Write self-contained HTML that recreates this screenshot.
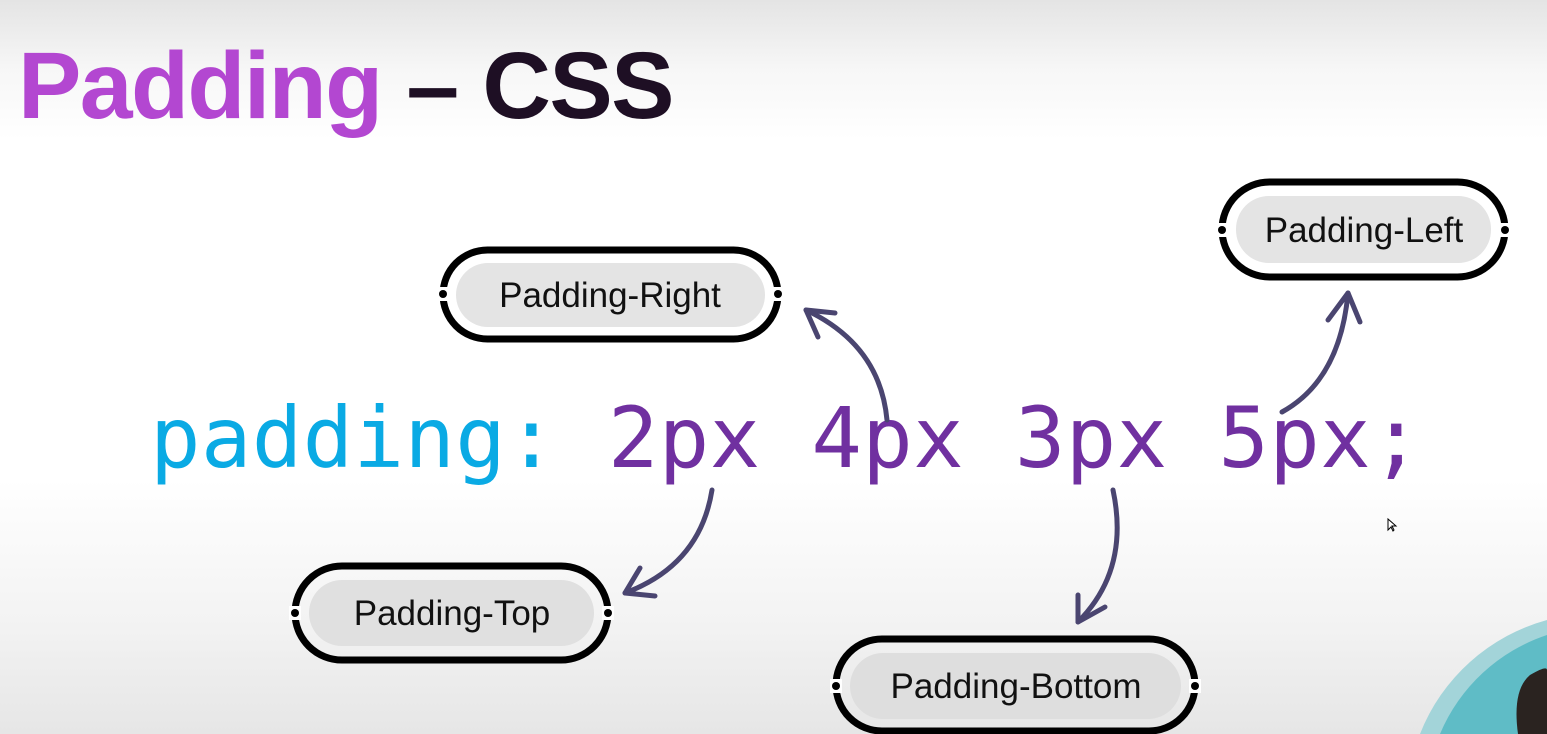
<!DOCTYPE html>
<html><head><meta charset="utf-8"><style>
html,body{margin:0;padding:0;overflow:hidden;width:1547px;height:734px}
body{position:relative;
background:linear-gradient(#e4e4e4 0px,#f7f7f7 70px,#fff 140px,#fff 480px,#f3f3f3 620px,#e6e6e6 734px);
font-family:"Liberation Sans",sans-serif}
.title{position:absolute;left:18px;top:32px;font-size:95px;font-weight:bold;letter-spacing:-1.6px;white-space:nowrap}
.code{position:absolute;left:150px;top:389px;font-family:"DejaVu Sans Mono","Liberation Mono",monospace;font-size:84px;letter-spacing:0.3px;white-space:pre;color:#7030a0}
</style></head><body>
<div class="title"><span style="color:#b347d1">Padding</span> <span style="color:#1e0f24">– CSS</span></div>
<div class="code"><span style="color:#0aaae4">padding:</span> 2px 4px 3px 5px;</div>
<svg width="1547" height="734" style="position:absolute;left:0;top:0;overflow:hidden">
<g font-family="Liberation Sans, sans-serif" font-size="35" fill="#111" text-anchor="middle">
<rect x="443" y="250" width="335" height="89" rx="44.5" fill="none" stroke="#000" stroke-width="7"/>
<rect x="437" y="287" width="12" height="14" fill="#fff"/><rect x="772" y="287" width="12" height="14" fill="#fff"/>
<circle cx="443" cy="294" r="4" fill="#000"/><circle cx="778" cy="294" r="4" fill="#000"/>
<rect x="456" y="263" width="309" height="64" rx="32" fill="#e4e4e4"/>
<text x="610" y="307">Padding-Right</text>
<rect x="1222" y="182" width="283" height="95" rx="47.5" fill="none" stroke="#000" stroke-width="7"/>
<rect x="1216" y="223" width="12" height="14" fill="#fff"/><rect x="1499" y="223" width="12" height="14" fill="#fff"/>
<circle cx="1222" cy="230" r="4" fill="#000"/><circle cx="1505" cy="230" r="4" fill="#000"/>
<rect x="1236" y="196" width="255" height="67" rx="33" fill="#e4e4e4"/>
<text x="1364" y="242">Padding-Left</text>
<rect x="295" y="566" width="313" height="94" rx="47" fill="none" stroke="#000" stroke-width="7"/>
<rect x="289" y="606" width="12" height="14" fill="#fff"/><rect x="602" y="606" width="12" height="14" fill="#fff"/>
<circle cx="295" cy="613" r="4" fill="#000"/><circle cx="608" cy="613" r="4" fill="#000"/>
<rect x="309" y="580" width="285" height="66" rx="33" fill="#e0e0e0"/>
<text x="452" y="625">Padding-Top</text>
<rect x="836" y="639" width="359" height="92" rx="46" fill="none" stroke="#000" stroke-width="7"/>
<rect x="830" y="679" width="12" height="14" fill="#fff"/><rect x="1189" y="679" width="12" height="14" fill="#fff"/>
<circle cx="836" cy="686" r="4" fill="#000"/><circle cx="1195" cy="686" r="4" fill="#000"/>
<rect x="850" y="653" width="331" height="66" rx="33" fill="#dedede"/>
<text x="1016" y="698">Padding-Bottom</text>
</g>
<g fill="none" stroke="#4a4570" stroke-width="5" stroke-linecap="round" stroke-linejoin="round">
<path d="M887 420 Q880 345 806 310"/><path d="M806 310 L835 313 M806 310 L818 337"/>
<path d="M1282 412 Q1340 380 1348 293"/><path d="M1348 293 L1328 320 M1348 293 L1360 322"/>
<path d="M712 490 Q700 565 625 593"/><path d="M625 593 L655 596 M625 593 L640 568"/>
<path d="M1113 490 Q1130 570 1078 622"/><path d="M1078 622 L1105 607 M1078 622 L1078 595"/>
</g>
<path d="M1420 734 A190 190 0 0 1 1547 620 L1547 734 Z" fill="#a3d4d9"/>
<path d="M1440 734 A176 176 0 0 1 1547 635 L1547 734 Z" fill="#5fbcc6"/>
<path d="M1518 734 Q1512 690 1530 675 Q1547 665 1547 670 L1547 734 Z" fill="#2a2320"/>
<path d="M1388 519 L1388 530 L1391 527 L1393 531 L1394 530 L1392 526 L1396 526 Z" fill="#fff" stroke="#000" stroke-width="1"/>
</svg>
</body></html>
